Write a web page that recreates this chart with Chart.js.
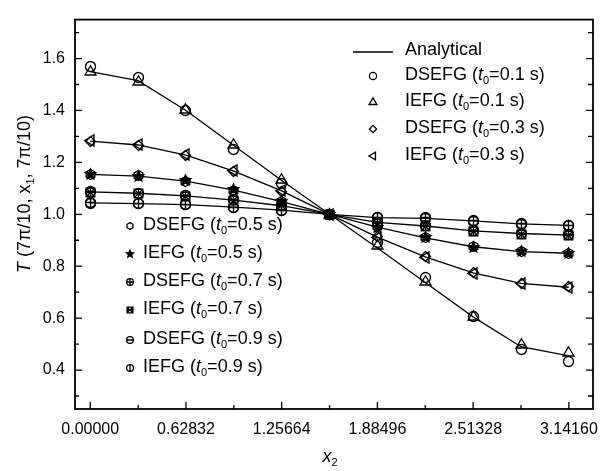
<!DOCTYPE html>
<html>
<head>
<meta charset="utf-8">
<script src="https://cdn.jsdelivr.net/npm/chart.js@4.4.1/dist/chart.umd.min.js"></script>
<style>
  html, body { margin: 0; padding: 0; background: #fff; }
  #wrap { width: 613px; height: 471px; }
</style>
</head>
<body>
<div id="wrap"><canvas id="tChart" width="613" height="471"></canvas></div>
<script>
// x positions (k*pi/10) and axis ticks
const xVals = [0, 0.31416, 0.62832, 0.94248, 1.25664, 1.5708, 1.88496, 2.19911, 2.51327, 2.82743, 3.1416];
const xTickVals = [0, 0.62832, 1.25664, 1.88496, 2.51328, 3.1416];
const xTickLabels = ['0.00000', '0.62832', '1.25664', '1.88496', '2.51328', '3.14160'];
const xMinorVals = [0.31416, 0.94248, 1.5708, 2.19911, 2.82743];
const yTickVals = [0.4, 0.6, 0.8, 1.0, 1.2, 1.4, 1.6];
const yTickLabels = ['0.4', '0.6', '0.8', '1.0', '1.2', '1.4', '1.6'];
const yMinorVals = [0.3, 0.5, 0.7, 0.9, 1.1, 1.3, 1.5, 1.7];

// analytical curves
const anaT01 = [1.55, 1.515, 1.40, 1.265, 1.13, 1.0, 0.87, 0.737, 0.605, 0.49, 0.455];
const anaT03 = [1.282, 1.267, 1.228, 1.166, 1.09, 1.0, 0.912, 0.836, 0.774, 0.734, 0.719];
const anaT05 = [1.154, 1.147, 1.128, 1.093, 1.049, 1.0, 0.951, 0.909, 0.875, 0.856, 0.85];
const anaT07 = [1.086, 1.081, 1.071, 1.055, 1.033, 1.0, 0.969, 0.955, 0.936, 0.926, 0.92];
const anaT09 = [1.044, 1.041, 1.037, 1.028, 1.016, 1.0, 0.987, 0.984, 0.975, 0.963, 0.957];

// numerical results
const dsefgT01 = [1.568, 1.528, 1.40, 1.248, 1.12, 1.0, 0.893, 0.755, 0.605, 0.48, 0.433];
const iefgT01 = [1.55, 1.512, 1.402, 1.27, 1.135, 1.0, 0.88, 0.742, 0.605, 0.50, 0.468];
const dsefgT03 = [1.282, 1.266, 1.227, 1.165, 1.088, 1.0, 0.913, 0.837, 0.775, 0.735, 0.72];
const iefgT03 = [1.283, 1.268, 1.229, 1.167, 1.091, 1.0, 0.911, 0.835, 0.773, 0.733, 0.718];
const dsefgT05 = [1.155, 1.148, 1.128, 1.092, 1.048, 1.0, 0.952, 0.91, 0.876, 0.856, 0.849];
const iefgT05 = [1.154, 1.147, 1.129, 1.094, 1.05, 1.0, 0.951, 0.909, 0.874, 0.855, 0.85];
const dsefgT07 = [1.087, 1.082, 1.072, 1.056, 1.034, 1.0, 0.97, 0.956, 0.937, 0.927, 0.921];
const iefgT07 = [1.085, 1.08, 1.07, 1.054, 1.032, 1.0, 0.966, 0.952, 0.933, 0.924, 0.918];
const dsefgT09 = [1.044, 1.041, 1.037, 1.028, 1.016, 1.0, 0.989, 0.986, 0.976, 0.964, 0.958];
const iefgT09 = [1.043, 1.04, 1.036, 1.027, 1.015, 1.0, 0.986, 0.983, 0.974, 0.962, 0.956];

const FONT = '"Liberation Sans", Arial, sans-serif';

function drawShape(ctx, kind, cx, cy, r) {
  ctx.beginPath();
  if (kind === 'circle' || kind === 'circlePlus' || kind === 'circleH' || kind === 'circleV') {
    ctx.arc(cx, cy, r, 0, Math.PI * 2);
    if (kind === 'circlePlus' || kind === 'circleH') { ctx.moveTo(cx - r, cy); ctx.lineTo(cx + r, cy); }
    if (kind === 'circlePlus' || kind === 'circleV') { ctx.moveTo(cx, cy - r); ctx.lineTo(cx, cy + r); }
    ctx.stroke();
  } else if (kind === 'triangle') {
    const s = r * 1.15;
    ctx.moveTo(cx, cy - s);
    ctx.lineTo(cx + s * 0.95, cy + s * 0.6);
    ctx.lineTo(cx - s * 0.95, cy + s * 0.6);
    ctx.closePath();
    ctx.stroke();
  } else if (kind === 'left') {
    const s = r * 1.15;
    ctx.moveTo(cx - s, cy);
    ctx.lineTo(cx + s * 0.6, cy - s * 0.95);
    ctx.lineTo(cx + s * 0.6, cy + s * 0.95);
    ctx.closePath();
    ctx.stroke();
  } else if (kind === 'diamond') {
    ctx.moveTo(cx, cy - r); ctx.lineTo(cx + r, cy); ctx.lineTo(cx, cy + r); ctx.lineTo(cx - r, cy);
    ctx.closePath();
    ctx.stroke();
  } else if (kind === 'hex') {
    for (let i = 0; i < 6; i++) {
      const a = -Math.PI / 2 + i * Math.PI / 3;
      if (i === 0) ctx.moveTo(cx + r * Math.cos(a), cy + r * Math.sin(a));
      else ctx.lineTo(cx + r * Math.cos(a), cy + r * Math.sin(a));
    }
    ctx.closePath();
    ctx.stroke();
  } else if (kind === 'star') {
    for (let i = 0; i < 10; i++) {
      const a = -Math.PI / 2 + i * Math.PI / 5;
      const rr = i % 2 === 0 ? r * 1.1 : r * 0.5;
      if (i === 0) ctx.moveTo(cx + rr * Math.cos(a), cy + rr * Math.sin(a));
      else ctx.lineTo(cx + rr * Math.cos(a), cy + rr * Math.sin(a));
    }
    ctx.closePath();
    ctx.fill();
    ctx.stroke();
  } else if (kind === 'boxAst') {
    const h = r * 0.85;
    ctx.rect(cx - h, cy - h, 2 * h, 2 * h);
    ctx.moveTo(cx - h, cy - h); ctx.lineTo(cx + h, cy + h);
    ctx.moveTo(cx + h, cy - h); ctx.lineTo(cx - h, cy + h);
    ctx.moveTo(cx - h, cy); ctx.lineTo(cx + h, cy);
    ctx.stroke();
  }
}

function makeMarker(kind, r) {
  const c = document.createElement('canvas');
  const size = Math.ceil(r) * 2 + 5;
  c.width = size; c.height = size;
  const g = c.getContext('2d');
  g.strokeStyle = '#000'; g.fillStyle = '#000'; g.lineWidth = 1.35;
  drawShape(g, kind, size / 2, size / 2, r);
  return c;
}

// draws text pieces (italic / subscript) left to right
function richWidth(ctx, parts, size) {
  let w = 0;
  parts.forEach(p => {
    ctx.font = (p.it ? 'italic ' : '') + (p.sub ? Math.round(size * 0.62) : size) + 'px ' + FONT;
    w += ctx.measureText(p.t).width;
  });
  return w;
}
function drawRich(ctx, x, y, parts, size) {
  ctx.textBaseline = 'middle';
  ctx.textAlign = 'left';
  parts.forEach(p => {
    ctx.font = (p.it ? 'italic ' : '') + (p.sub ? Math.round(size * 0.62) : size) + 'px ' + FONT;
    ctx.fillText(p.t, x, p.sub ? y + size * 0.32 : y);
    x += ctx.measureText(p.t).width;
  });
}
function legendParts(method, t) {
  return [{t: method + ' ('}, {t: 't', it: true}, {t: '0', sub: true}, {t: '=' + t + ' s)'}];
}

const lineSets = [anaT01, anaT03, anaT05, anaT07, anaT09].map(arr => ({
  label: 'Analytical',
  data: xVals.map((x, i) => ({x: x, y: arr[i]})),
  borderColor: '#000',
  borderWidth: 1.3,
  pointRadius: 0,
  tension: 0,
  showLine: true
}));

const markerDefs = [
  {arr: dsefgT01, kind: 'circle', method: 'DSEFG', t: '0.1'},
  {arr: iefgT01, kind: 'triangle', method: 'IEFG', t: '0.1'},
  {arr: dsefgT03, kind: 'diamond', method: 'DSEFG', t: '0.3'},
  {arr: iefgT03, kind: 'left', method: 'IEFG', t: '0.3'},
  {arr: dsefgT05, kind: 'hex', method: 'DSEFG', t: '0.5'},
  {arr: iefgT05, kind: 'star', method: 'IEFG', t: '0.5'},
  {arr: dsefgT07, kind: 'circlePlus', method: 'DSEFG', t: '0.7'},
  {arr: iefgT07, kind: 'boxAst', method: 'IEFG', t: '0.7'},
  {arr: dsefgT09, kind: 'circleH', method: 'DSEFG', t: '0.9'},
  {arr: iefgT09, kind: 'circleV', method: 'IEFG', t: '0.9'}
];

const markerSets = markerDefs.map(d => ({
  label: d.method + ' t0=' + d.t,
  data: xVals.map((x, i) => ({x: x, y: d.arr[i]})),
  showLine: false,
  pointStyle: makeMarker(d.kind, 5),
  pointRadius: 5,
  borderColor: '#000',
  backgroundColor: 'rgba(0,0,0,0)'
}));

const decorPlugin = {
  id: 'decor',
  beforeDatasetsDraw(chart) {
    chart.ctx.imageSmoothingEnabled = false;
  },
  afterDraw(chart) {
    const ctx = chart.ctx;
    const a = chart.chartArea;
    const xs = chart.scales.x, ys = chart.scales.y;
    ctx.save();
    ctx.imageSmoothingEnabled = true;
    ctx.strokeStyle = '#000';
    ctx.fillStyle = '#000';
    // frame
    ctx.lineWidth = 1.8;
    ctx.strokeRect(a.left, a.top, a.right - a.left, a.bottom - a.top);
    // inward ticks
    ctx.lineWidth = 1.3;
    ctx.beginPath();
    xTickVals.forEach(v => { const p = xs.getPixelForValue(v); ctx.moveTo(p, a.bottom); ctx.lineTo(p, a.bottom - 7); });
    xMinorVals.forEach(v => { const p = xs.getPixelForValue(v); ctx.moveTo(p, a.bottom); ctx.lineTo(p, a.bottom - 4); });
    yTickVals.forEach(v => {
      const p = ys.getPixelForValue(v);
      ctx.moveTo(a.left, p); ctx.lineTo(a.left + 7, p);
      ctx.moveTo(a.right, p); ctx.lineTo(a.right - 7, p);
    });
    yMinorVals.forEach(v => {
      const p = ys.getPixelForValue(v);
      ctx.moveTo(a.left, p); ctx.lineTo(a.left + 4, p);
      ctx.moveTo(a.right, p); ctx.lineTo(a.right - 5, p);
    });
    ctx.stroke();

    // axis titles
    const xt = [{t: 'x', it: true}, {t: '2', sub: true}];
    drawRich(ctx, 330 - richWidth(ctx, xt, 18) / 2, 457, xt, 18);
    const yt = [{t: 'T', it: true}, {t: ' (7\u03c0/10, x'}, {t: '1', sub: true}, {t: ', 7\u03c0/10)'}];
    ctx.save();
    ctx.translate(25, 194);
    ctx.rotate(-Math.PI / 2);
    drawRich(ctx, -richWidth(ctx, yt, 18) / 2, 0, yt, 18);
    ctx.restore();

    // top-right legend
    ctx.lineWidth = 1.4;
    ctx.beginPath(); ctx.moveTo(353, 52); ctx.lineTo(393, 52); ctx.stroke();
    drawRich(ctx, 405, 50, [{t: 'Analytical'}], 18);
    const topRows = [75, 101, 128, 155];
    ctx.lineWidth = 1.3;
    markerDefs.slice(0, 4).forEach((d, i) => {
      drawShape(ctx, d.kind, 373, topRows[i] + 1, 3.6);
      drawRich(ctx, 405, topRows[i], legendParts(d.method, d.t), 18);
    });
    // bottom-left legend
    const botRows = [225, 253, 281, 309, 339, 367];
    markerDefs.slice(4).forEach((d, i) => {
      drawShape(ctx, d.kind, 130, botRows[i] + 1, 3.4);
      drawRich(ctx, 143, botRows[i], legendParts(d.method, d.t), 18);
    });
    ctx.restore();
  }
};

const bgPlugin = {
  id: 'bg',
  beforeDraw(chart) {
    const ctx = chart.ctx;
    ctx.save();
    ctx.fillStyle = '#fff';
    ctx.fillRect(0, 0, chart.width, chart.height);
    ctx.restore();
  }
};

const tChart = new Chart(document.getElementById('tChart'), {
  type: 'scatter',
  data: { datasets: lineSets.concat(markerSets) },
  options: {
    responsive: false,
    animation: false,
    layout: { padding: { top: 3, right: 20, left: 0, bottom: 0 } },
    plugins: { legend: { display: false }, title: { display: false }, tooltip: { enabled: false } },
    scales: {
      x: {
        type: 'linear',
        min: -0.1,
        max: 3.3,
        afterBuildTicks: s => { s.ticks = xTickVals.map(v => ({value: v})); },
        afterFit: s => { s.height = 62; },
        ticks: {
          autoSkip: false,
          maxRotation: 0,
          padding: 11,
          color: '#000',
          font: { family: FONT, size: 16 },
          callback: (v, i) => xTickLabels[i]
        },
        grid: { display: false, drawTicks: false },
        border: { display: false }
      },
      y: {
        type: 'linear',
        min: 0.25,
        max: 1.75,
        afterBuildTicks: s => { s.ticks = yTickVals.map(v => ({value: v})); },
        afterFit: s => { s.width = 75; },
        ticks: {
          autoSkip: false,
          padding: 10,
          color: '#000',
          font: { family: FONT, size: 16 },
          callback: (v, i) => yTickLabels[i]
        },
        grid: { display: false, drawTicks: false },
        border: { display: false }
      }
    }
  },
  plugins: [bgPlugin, decorPlugin]
});
</script>
</body>
</html>
